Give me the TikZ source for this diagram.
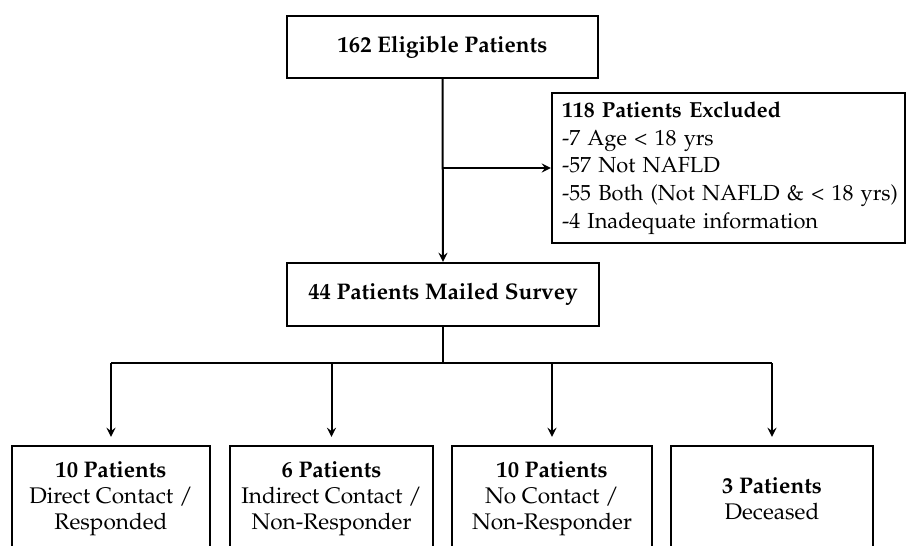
\documentclass[tikz,border=0pt]{standalone}
\usepackage[T1]{fontenc}
\usepackage{mathpazo}
\begin{document}
\begin{tikzpicture}[
        x=0.5pt, y=-0.5pt,
        font=\fontsize{11.3}{13}\selectfont,
        box/.style={rectangle, draw=black, line width=1.2pt, align=center, inner sep=0pt},
        arrow/.style={->, >=stealth, line width=1pt},
        link/.style={line width=1pt}
    ]
    \useasboundingbox (0,0) rectangle (906,546);
    \clip (0,0) rectangle (906,546);
    % Enrolment
    \node (eligible) at (442.5,47) [box, minimum width=155.5pt, minimum height=31pt] {\textbf{162 Eligible Patients}};
    \node (excluded) at (728.5,168) [box, align=left, text width=166.5pt, inner xsep=5pt, minimum height=75pt,
        font=\fontsize{10.9}{13.9}\selectfont] {\textbf{118 Patients Excluded}\\-7 Age < 18 yrs\\-57 Not NAFLD\\\mbox{-55 Both (Not NAFLD \& < 18 yrs)}\\-4 Inadequate information};
    \node (mailed) at (443,294.5) [box, minimum width=156pt, minimum height=31.5pt] {\textbf{44 Patients Mailed Survey}};
    \draw[arrow] (eligible.south) -- (mailed.north);
    \draw[arrow] (eligible.south |- excluded.west) -- (excluded.west);

    % Outcomes
    \node (direct) at (111,499) [box, minimum width=99pt, minimum height=53pt] {\textbf{10 Patients}\\Direct Contact /\\Responded};
    \node (indirect) at (331.5,499) [box, minimum width=101.5pt, minimum height=53pt] {\textbf{6 Patients}\\Indirect Contact /\\Non-Responder};
    \node (nocontact) at (552,499) [box, minimum width=100pt, minimum height=53pt] {\textbf{10 Patients}\\No Contact /\\Non-Responder};
    \node (deceased) at (772,499) [box, minimum width=101pt, minimum height=53pt] {\textbf{3 Patients}\\Deceased};
    \coordinate (hub) at (443,363);
    \draw[link] (mailed.south) -- (hub);
    \draw[link] (hub -| direct.north) -- (hub -| deceased.north);
    \foreach \outcome in {direct,indirect,nocontact,deceased}
        \draw[arrow, shorten >=4pt] (hub -| \outcome.north) -- (\outcome.north);
\end{tikzpicture}
\end{document}
